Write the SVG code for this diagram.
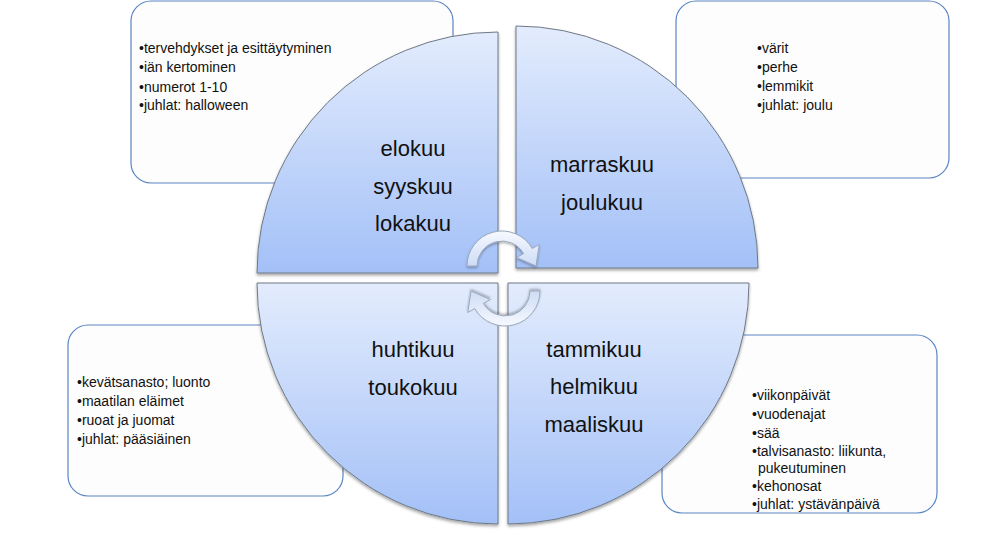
<svg xmlns="http://www.w3.org/2000/svg" width="1006" height="557" viewBox="0 0 1006 557">
<defs>
<style>
.box{fill:#fdfdfd;stroke:#5a85c2;stroke-width:1.2}
.bt{font-family:"Liberation Sans",Arial,sans-serif;font-size:14px;fill:#111}
.q{fill:url(#qg);stroke:#6f7986;stroke-width:1;filter:url(#sh)}
.ql{font-family:"Liberation Sans",Arial,sans-serif;font-size:22px;fill:#111;text-anchor:middle}
.arr{fill:url(#ag);stroke:#9aa8bc;stroke-width:1;filter:url(#sh2)}
</style>
<linearGradient id="qg" x1="0" y1="0" x2="0" y2="1">
<stop offset="0" stop-color="#e3ecfd"/>
<stop offset="1" stop-color="#a3c0f7"/>
</linearGradient>
<linearGradient id="ag" x1="0" y1="0" x2="0" y2="1">
<stop offset="0" stop-color="#f7f9fe"/>
<stop offset="1" stop-color="#cddcf6"/>
</linearGradient>
<filter id="sh" x="-10%" y="-10%" width="120%" height="120%">
<feDropShadow dx="0" dy="2" stdDeviation="1.5" flood-color="#000" flood-opacity="0.35"/>
</filter>
<filter id="sh2" x="-20%" y="-20%" width="140%" height="140%">
<feDropShadow dx="0" dy="1.5" stdDeviation="1.2" flood-color="#000" flood-opacity="0.3"/>
</filter>
<path id="carrow" d="M -35 0 A 35 35 0 0 1 30.3 -17.5 L 37.2 -21.5 L 34 0 L 14.7 -8.5 L 21.6 -12.5 A 25 25 0 0 0 -25 0 Z"/>
</defs>
<rect width="1006" height="557" fill="#ffffff"/>

<g id="box-autumn">
<rect class="box" x="131" y="1" width="322" height="182" rx="20"/>
<text class="bt" x="139" y="53">•tervehdykset ja esittäytyminen</text>
<text class="bt" x="139" y="72">•iän kertominen</text>
<text class="bt" x="139" y="92">•numerot 1-10</text>
<text class="bt" x="139" y="110">•juhlat: halloween</text>
</g>
<g id="box-winter1">
<rect class="box" x="676" y="1" width="273" height="177" rx="20"/>
<text class="bt" x="757" y="53">•värit</text>
<text class="bt" x="757" y="72">•perhe</text>
<text class="bt" x="757" y="91">•lemmikit</text>
<text class="bt" x="757" y="110">•juhlat: joulu</text>
</g>
<g id="box-spring">
<rect class="box" x="68" y="325" width="275" height="171" rx="20"/>
<text class="bt" x="77" y="387">•kevätsanasto; luonto</text>
<text class="bt" x="77" y="406">•maatilan eläimet</text>
<text class="bt" x="77" y="425">•ruoat ja juomat</text>
<text class="bt" x="77" y="444">•juhlat: pääsiäinen</text>
</g>
<g id="box-winter2">
<rect class="box" x="662" y="335" width="275" height="178" rx="20"/>
<text class="bt" x="752" y="400">•viikonpäivät</text>
<text class="bt" x="752" y="419">•vuodenajat</text>
<text class="bt" x="752" y="438">•sää</text>
<text class="bt" x="752" y="456">•talvisanasto: liikunta,</text>
<text class="bt" x="758" y="473">pukeutuminen</text>
<text class="bt" x="752" y="491">•kehonosat</text>
<text class="bt" x="752" y="509">•juhlat: ystävänpäivä</text>
</g>

<g id="q-autumn">
<path class="q" d="M 498 273 L 257 273 A 241 241 0 0 1 498 32 Z"/>
<text class="ql" x="413" y="156">elokuu</text>
<text class="ql" x="413" y="193.5">syyskuu</text>
<text class="ql" x="413" y="231">lokakuu</text>
</g>
<g id="q-winter1">
<path class="q" d="M 516 268 L 516 26 A 242 242 0 0 1 758 268 Z"/>
<text class="ql" x="602" y="172">marraskuu</text>
<text class="ql" x="602" y="210">joulukuu</text>
</g>
<g id="q-spring">
<path class="q" d="M 498 283 L 498 524 A 241 241 0 0 1 257 283 Z"/>
<text class="ql" x="413" y="357">huhtikuu</text>
<text class="ql" x="413" y="395">toukokuu</text>
</g>
<g id="q-winter2">
<path class="q" d="M 508 283 L 749 283 A 241 241 0 0 1 508 524 Z"/>
<text class="ql" x="594" y="357">tammikuu</text>
<text class="ql" x="594" y="394">helmikuu</text>
<text class="ql" x="594" y="432">maaliskuu</text>
</g>

<g id="connectors">
<use href="#carrow" class="arr" transform="translate(502 266)"/>
<use href="#carrow" class="arr" transform="translate(505 291) rotate(180)"/>
</g>
</svg>
